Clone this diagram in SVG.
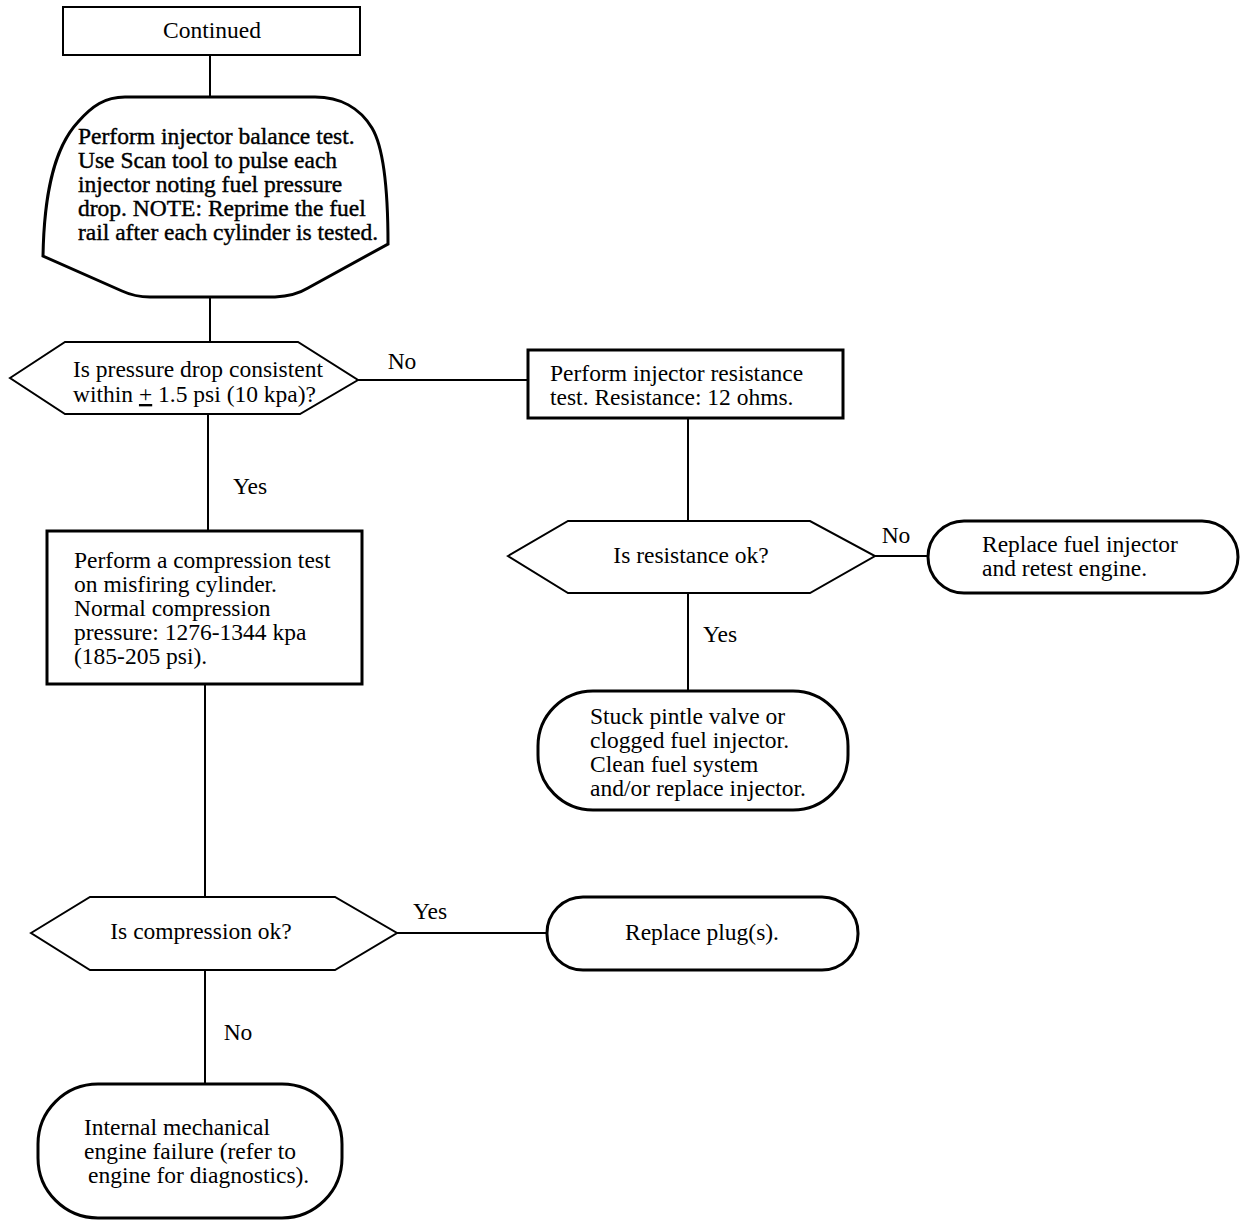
<svg xmlns="http://www.w3.org/2000/svg" width="1248" height="1228" viewBox="0 0 1248 1228">
<style>
text{font-family:"Liberation Serif","Times New Roman",serif;font-size:23.5px;fill:#000}
.c{text-anchor:middle}
.b{stroke:#000;stroke-width:0.4}
.box{fill:#fff;stroke:#000;stroke-width:3}
.thin{fill:#fff;stroke:#000;stroke-width:2}
.ln{fill:none;stroke:#000;stroke-width:2}
</style>
<rect width="1248" height="1228" fill="#fff"/>
<g id="connectors">
<line class="ln" x1="210" y1="55" x2="210" y2="97"/>
<line class="ln" x1="210" y1="297" x2="210" y2="341"/>
<line class="ln" x1="358" y1="380" x2="528" y2="380"/>
<line class="ln" x1="688" y1="418" x2="688" y2="521"/>
<line class="ln" x1="875" y1="556" x2="928" y2="556"/>
<line class="ln" x1="688" y1="593" x2="688" y2="691"/>
<line class="ln" x1="208" y1="414" x2="208" y2="531"/>
<line class="ln" x1="205" y1="684" x2="205" y2="897"/>
<line class="ln" x1="397" y1="933" x2="547" y2="933"/>
<line class="ln" x1="205" y1="970" x2="205" y2="1084"/>
<text x="402" y="369" class="c">No</text>
<text x="896" y="543" class="c">No</text>
<text x="720" y="642" class="c">Yes</text>
<text x="250" y="494" class="c">Yes</text>
<text x="430" y="919" class="c">Yes</text>
<text x="238" y="1040" class="c">No</text>
</g>
<g id="continued">
<rect class="thin" x="63" y="7" width="297" height="48"/>
<text x="212" y="38" class="c">Continued</text>
</g>
<g id="balance">
<path class="box" d="M43,256 C44,200 52,150 78,122 C92,106 105,97 125,97 L315,97 C340,97 360,108 372,128 C384,148 388,190 388,244 L308,288 Q295,296 275,297 L150,297 Q135,297 122,291 Z"/>
<g class="b">
<text x="78" y="144">Perform injector balance test.</text>
<text x="78" y="168">Use Scan tool to pulse each</text>
<text x="78" y="192">injector noting fuel pressure</text>
<text x="78" y="216">drop. NOTE: Reprime the fuel</text>
<text x="78" y="240">rail after each cylinder is tested.</text>
</g>
</g>
<g id="pressure">
<polygon class="thin" points="10,378 65,342 298,342 358,380 300,414 65,414"/>
<text x="73" y="377">Is pressure drop consistent</text>
<text x="73" y="402">within <tspan text-decoration="underline">+</tspan> 1.5 psi (10 kpa)?</text>
</g>
<g id="resistance-test">
<rect class="box" x="528" y="350" width="315" height="68"/>
<text x="550" y="381">Perform injector resistance</text>
<text x="550" y="405">test. Resistance: 12 ohms.</text>
</g>
<g id="resistance-ok">
<polygon class="thin" points="508,556 568,521 810,521 875,556 810,593 568,593"/>
<text x="691" y="563" class="c">Is resistance ok?</text>
</g>
<g id="replace-injector">
<rect class="box" x="928" y="521" width="310" height="72" rx="36"/>
<text x="982" y="552">Replace fuel injector</text>
<text x="982" y="576">and retest engine.</text>
</g>
<g id="stuck">
<rect class="box" x="538" y="691" width="310" height="119" rx="55"/>
<text x="590" y="724">Stuck pintle valve or</text>
<text x="590" y="748">clogged fuel injector.</text>
<text x="590" y="772">Clean fuel system</text>
<text x="590" y="796">and/or replace injector.</text>
</g>
<g id="compression-test">
<rect class="box" x="47" y="531" width="315" height="153"/>
<text x="74" y="568">Perform a compression test</text>
<text x="74" y="592">on misfiring cylinder.</text>
<text x="74" y="616">Normal compression</text>
<text x="74" y="640">pressure: 1276-1344 kpa</text>
<text x="74" y="664">(185-205 psi).</text>
</g>
<g id="compression-ok">
<polygon class="thin" points="31,933 90,897 335,897 397,933 335,970 90,970"/>
<text x="201" y="939" class="c">Is compression ok?</text>
</g>
<g id="replace-plugs">
<rect class="box" x="547" y="897" width="311" height="73" rx="36"/>
<text x="702" y="940" class="c">Replace plug(s).</text>
</g>
<g id="internal">
<rect class="box" x="38" y="1084" width="304" height="134" rx="60"/>
<text x="84" y="1135">Internal mechanical</text>
<text x="84" y="1159">engine failure (refer to</text>
<text x="88" y="1183">engine  for diagnostics).</text>
</g>
</svg>
